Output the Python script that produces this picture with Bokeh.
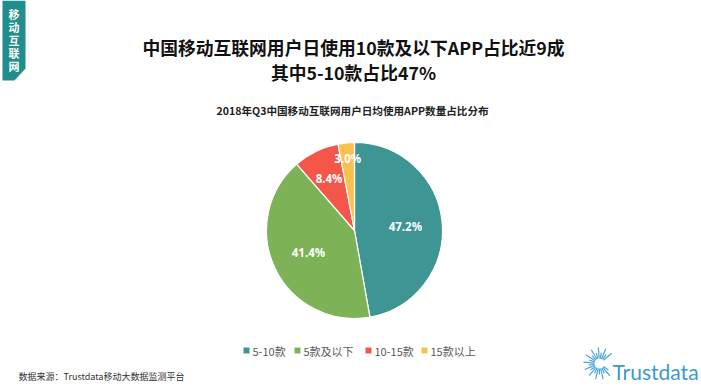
import math
from bokeh.plotting import figure
from bokeh.models import Range1d, ColumnDataSource
from bokeh.core.properties import value
from bokeh.embed import file_html
from bokeh.resources import INLINE

# ---- data ----
categories = ["5-10款", "5款及以下", "10-15款", "15款以上"]
shares = [47.2, 41.4, 8.4, 3.0]
colors = ["#3F9593", "#7DB356", "#F5564A", "#FBC150"]
title_lines = ["中国移动互联网用户日使用10款及以下APP占比近9成", "其中5-10款占比47%"]
subtitle = "2018年Q3中国移动互联网用户日均使用APP数量占比分布"
source_text = "数据来源：Trustdata移动大数据监测平台"
banner_text = ["移", "动", "互", "联", "网"]

W, H = 701, 387
CJK = value("Noto Sans CJK SC")

p = figure(width=W, height=H, output_backend="svg", toolbar_location=None,
           x_range=Range1d(0, W), y_range=Range1d(0, H), min_border=0)
p.axis.visible = False
p.grid.visible = False
p.outline_line_color = None
p.background_fill_color = "white"
p.border_fill_color = "white"

def Y(py):
    return H - py

# banner
p.patch([2, 25, 25, 14, 2], [Y(0), Y(0), Y(68), Y(80), Y(80)],
        fill_color="#1F8E8C", line_color=None)
p.text(x=[13.5] * 5, y=[Y(13 + 13 * i) for i in range(5)], text=banner_text,
       text_font=CJK, text_font_style="bold", text_font_size="11px",
       text_color="white", text_align="center", text_baseline="middle")

# titles
p.text(x=[353, 353], y=[Y(46), Y(71)], text=title_lines, text_font=CJK,
       text_font_style="bold", text_font_size="17.8px", text_color="#111111",
       text_align="center", text_baseline="middle")
p.text(x=[352], y=[Y(110)], text=[subtitle], text_font=CJK, text_font_style="bold",
       text_font_size="10.6px", text_color="#222222", text_align="center",
       text_baseline="middle")

# pie
cx, cy, r = 354, Y(230), 88
total = sum(shares)
starts, ends, lx, ly = [], [], [], []
cum = 0.0
for s in shares:
    a0 = math.pi / 2 - cum / total * 2 * math.pi
    cum += s
    a1 = math.pi / 2 - cum / total * 2 * math.pi
    starts.append(a0)
    ends.append(a1)
    mid = (a0 + a1) / 2
    rf = 0.58 if s > 20 else (0.66 if s > 5 else 0.82)
    lx.append(cx + r * rf * math.cos(mid))
    ly.append(cy + r * rf * math.sin(mid))

src = ColumnDataSource(dict(start=starts, end=ends, color=colors))
p.wedge(x=cx, y=cy, radius=r, start_angle="start", end_angle="end",
        direction="clock", fill_color="color", line_color="white",
        line_width=1.2, source=src)
p.text(x=lx, y=ly, text=[f"{s:.1f}%" for s in shares], text_font=value("Noto Sans"),
       text_font_style="bold", text_font_size="11.5px", text_color="white",
       text_align="center", text_baseline="middle")

# legend
leg_x = [243, 294, 365, 421]
p.rect(x=[x + 3 for x in leg_x], y=[Y(350)] * 4, width=6, height=6,
       fill_color=colors, line_color=None)
p.text(x=[x + 9 for x in leg_x], y=[Y(350)] * 4, text=categories, text_font=CJK,
       text_font_size="11px", text_color="#595959", text_align="left",
       text_baseline="middle")

# source
p.text(x=[18], y=[Y(376)], text=[source_text], text_font=CJK, text_font_size="9px",
       text_color="#333333", text_align="left", text_baseline="middle")

# logo
lcx, lcy = 599, Y(363)
xs, ys = [], []
for i in range(22):
    ang = math.radians(40 + i * 13.5)
    r0 = 5
    r1 = 11 + (5 if i % 2 == 0 else 0)
    xs.append([lcx + r0 * math.cos(ang), lcx + r1 * math.cos(ang)])
    ys.append([lcy + r0 * math.sin(ang), lcy + r1 * math.sin(ang)])
p.multi_line(xs, ys, line_color="#4BA4D6", line_width=1.2)
p.text(x=[612], y=[Y(371)], text=["Trustdata"], text_font=value("Lato"),
       text_font_size="21px", text_color="#3C9AD0", text_align="left",
       text_baseline="middle")

html = file_html(p, INLINE)
html = html.replace("<head>", "<head><style>html,body{margin:0;padding:0;overflow:hidden}</style>", 1)
open("out.html", "w").write(html)
